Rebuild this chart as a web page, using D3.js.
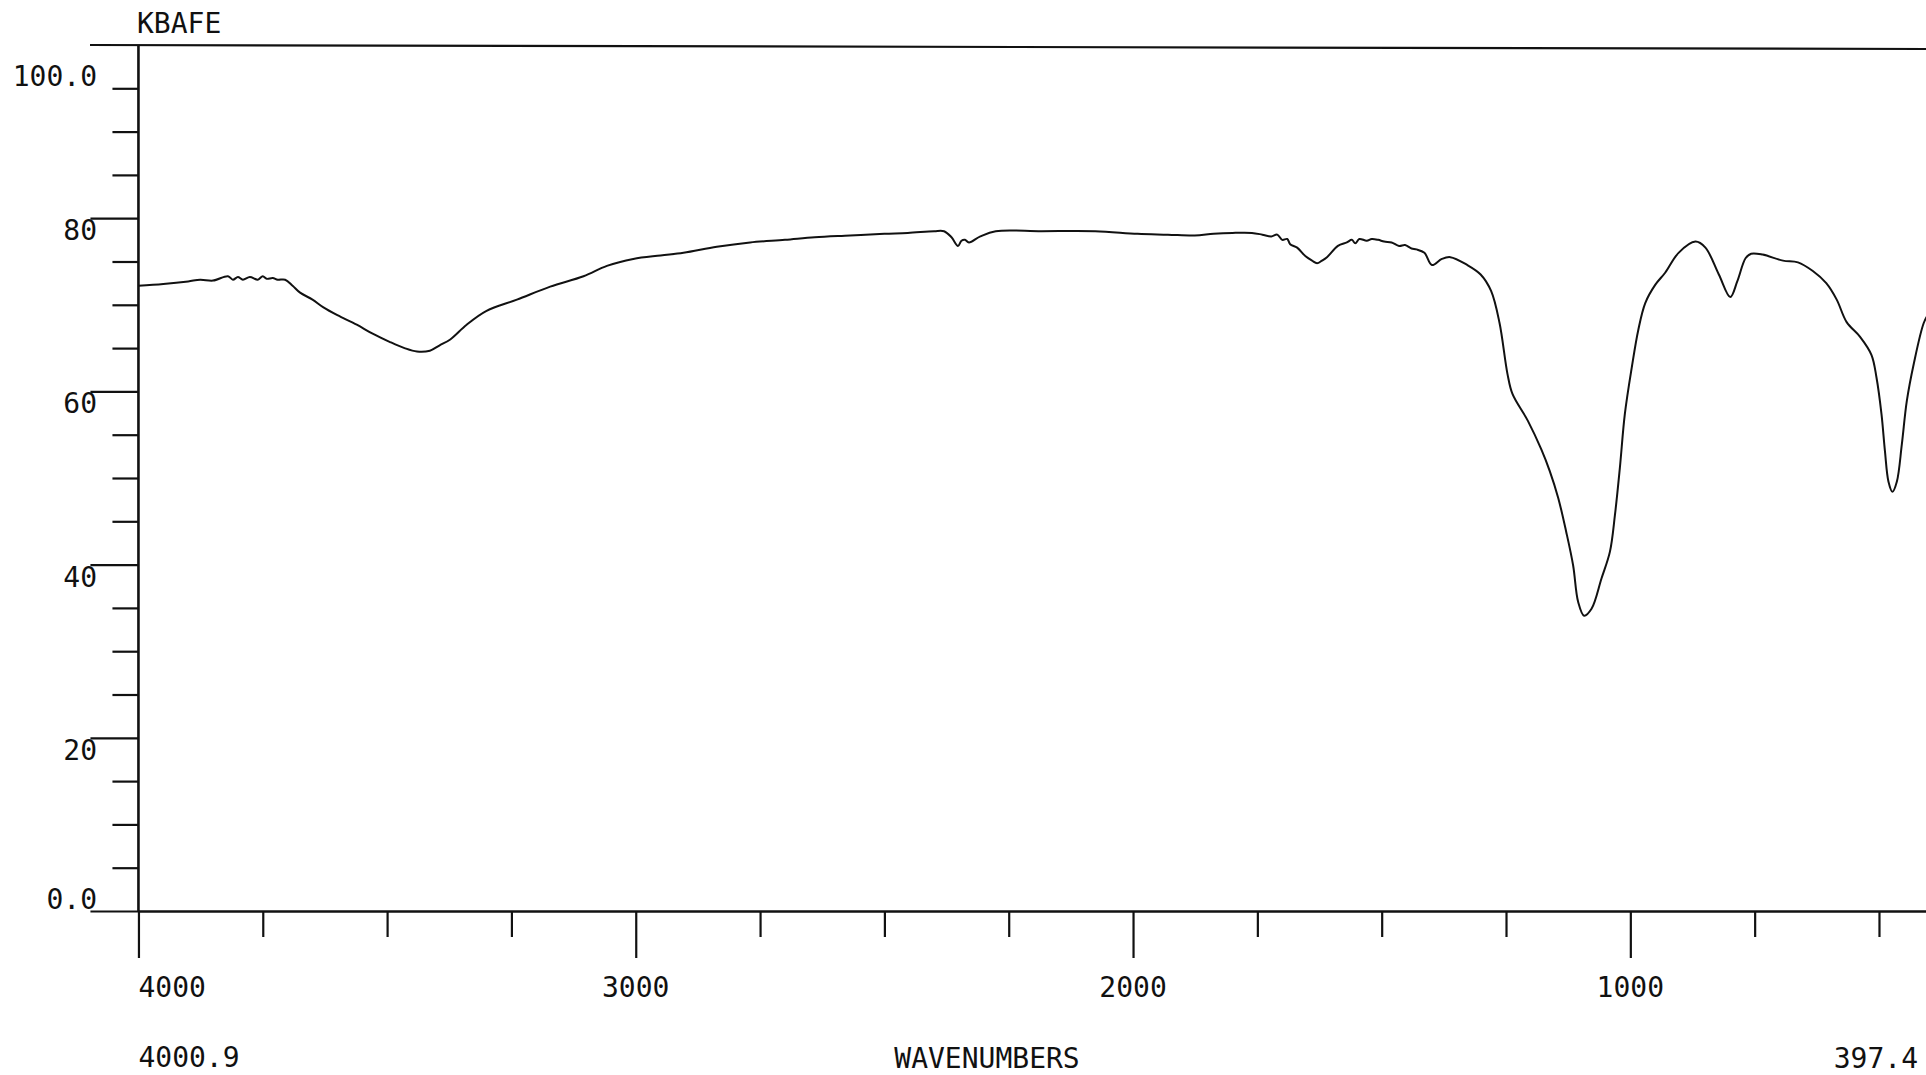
<!DOCTYPE html>
<html><head><meta charset="utf-8">
<script src="https://cdn.jsdelivr.net/npm/d3@7"></script>
<style>
html,body{margin:0;padding:0;background:#fff;overflow:hidden}
text{font-family:"DejaVu Sans Mono",monospace;fill:#111;font-size:28px}
</style>
</head><body>
<svg id="c" width="1926" height="1075"></svg>
<script>
// ---- data ----
const title = "KBAFE";
const xLabel = "WAVENUMBERS";
const xStartLabel = "4000.9";
const xEndLabel = "397.4";
const xDomain = [4000.9, 397.4];

const wavenumbers = [4000, 3950, 3900, 3876, 3850, 3820, 3810, 3800, 3790, 3776, 3760, 3750, 3742, 3730, 3720, 3705,
  3690, 3675, 3650, 3628, 3600, 3561, 3530, 3494, 3465, 3440, 3414, 3395, 3373, 3340, 3300, 3239, 3172, 3105, 3058,
  3005, 2950, 2904, 2837, 2770, 2700, 2640, 2569, 2500, 2453, 2400, 2380, 2365, 2352, 2345, 2338, 2330, 2307, 2276,
  2184, 2076, 1991, 1930, 1876, 1838, 1800, 1761, 1740, 1722, 1710, 1700, 1690, 1684, 1670, 1653, 1640, 1630, 1620, 1610,
  1588, 1570, 1560, 1553, 1545, 1530, 1520, 1507, 1495, 1480, 1465, 1453, 1440, 1430, 1414, 1399, 1379, 1362, 1328,
  1301, 1280, 1263, 1247, 1237, 1206, 1179, 1162, 1145, 1129, 1115, 1105, 1093, 1078, 1058, 1041, 1031, 1021, 1011,
  997, 984, 970, 950, 930, 903, 869, 849, 822, 799, 785, 768, 757, 734, 693, 663, 633, 606, 585, 565, 538, 515, 505,
  495, 488, 481, 473, 464, 454, 444, 430, 410, 400];

const transmittance = [72.2, 72.4, 72.7, 72.9, 72.8, 73.3, 72.9, 73.2, 72.9, 73.2, 72.9, 73.3, 73.0, 73.1, 72.9, 72.9,
  72.2, 71.4, 70.6, 69.7, 68.8, 67.7, 66.7, 65.7, 65.0, 64.6, 64.7, 65.3, 66.0, 67.7, 69.3, 70.6, 72.1, 73.3, 74.5,
  75.3, 75.7, 76.0, 76.7, 77.2, 77.5, 77.8, 78.0, 78.2, 78.3, 78.5, 78.5, 77.8, 76.8, 77.4, 77.5, 77.2, 77.9, 78.5,
  78.5, 78.5, 78.2, 78.1, 78.0, 78.2, 78.3, 78.3, 78.1, 77.9, 78.1, 77.5, 77.6, 77.0, 76.6, 75.6, 75.1, 74.8, 75.1, 75.5,
  76.8, 77.2, 77.5, 77.1, 77.6, 77.4, 77.6, 77.5, 77.3, 77.2, 76.8, 76.9, 76.5, 76.4, 76.0, 74.6, 75.3, 75.5, 74.6,
  73.5, 71.6, 67.9, 62.0, 59.7, 56.6, 53.3, 50.8, 47.7, 43.8, 39.9, 35.7, 34.1, 34.9, 38.4, 41.5, 45.7, 51.2, 57.4,
  62.8, 67.1, 70.2, 72.3, 73.7, 76.0, 77.3, 76.6, 73.5, 70.9, 72.7, 75.4, 75.9, 75.8, 75.1, 74.9, 73.9, 72.5, 70.6,
  68.0, 66.3, 64.2, 61.6, 57.4, 53.1, 49.6, 48.4, 49.6, 53.9, 58.9, 63.2, 67.9, 69.0];

const xTicks = [4000, 3750, 3500, 3250, 3000, 2750, 2500, 2250, 2000, 1750, 1500, 1250, 1000, 750, 500];
const xMajorTicks = [4000, 3000, 2000, 1000];
const xTickLabels = ["4000", "3000", "2000", "1000"];
const yTicks = [0, 5, 10, 15, 20, 25, 30, 35, 40, 45, 50, 55, 60, 65, 70, 75, 80, 85, 90, 95];
const yMajorTicks = [0, 20, 40, 60, 80];
const yLabelValues = [0, 20, 40, 60, 80, 95];
const yLabelTexts = ["0.0", "20", "40", "60", "80", "100.0"];

// ---- chart ----
const W = 1926, H = 1075;
const svg = d3.select("#c");
const ink = "#111";
const x = d3.scaleLinear().domain(xDomain).range([138, 1930]);
const y = d3.scaleLinear().domain([0, 100]).range([911, 45]);

// top frame line
svg.append("line").attr("x1", 90).attr("x2", W).attr("y1", y(100)).attr("y2", y(100) + 4)
  .attr("stroke", ink).attr("stroke-width", 2.2);
// vertical axis line
svg.append("line").attr("x1", x(4000)).attr("x2", x(4000)).attr("y1", y(100)).attr("y2", y(0))
  .attr("stroke", ink).attr("stroke-width", 2.6);

// y axis ticks
const gy = svg.append("g").attr("transform", `translate(${x(4000)},0)`)
  .call(d3.axisLeft(y).tickValues(yTicks).tickFormat("").tickSizeOuter(0));
gy.select(".domain").remove();
gy.selectAll(".tick line").attr("x2", d => yMajorTicks.includes(d) ? -48 : -26)
  .attr("stroke", ink).attr("stroke-width", 2.2);

svg.selectAll(".ylab").data(yLabelValues).join("text").attr("class", "ylab")
  .attr("x", 97)
  .attr("y", d => (d === 0 || d === 95) ? y(d) - 2 : y(d) + 22)
  .attr("text-anchor", "end")
  .text((d, i) => yLabelTexts[i]);

// x axis
const gx = svg.append("g").attr("transform", `translate(0,${y(0)})`)
  .call(d3.axisBottom(x).tickValues(xTicks).tickFormat("").tickSizeOuter(0));
gx.select(".domain").attr("stroke", ink).attr("stroke-width", 2.4);
gx.selectAll(".tick line").attr("y2", d => xMajorTicks.includes(d) ? 47 : 26)
  .attr("stroke", ink).attr("stroke-width", 2.2);

svg.selectAll(".xlab").data(xMajorTicks).join("text").attr("class", "xlab")
  .attr("x", d => x(d))
  .attr("y", 997)
  .attr("text-anchor", (d, i) => i === 0 ? "start" : "middle")
  .text((d, i) => xTickLabels[i]);

// texts
svg.append("text").attr("x", 137).attr("y", 33).text(title);
svg.append("text").attr("x", x(4000)).attr("y", 1067).text(xStartLabel);
svg.append("text").attr("x", 987).attr("y", 1068).attr("text-anchor", "middle").text(xLabel);
svg.append("text").attr("x", 1918).attr("y", 1068).attr("text-anchor", "end").text(xEndLabel);

// spectrum
const pts = wavenumbers.map((w, i) => [w, transmittance[i]]);
svg.append("path").datum(pts)
  .attr("fill", "none").attr("stroke", ink).attr("stroke-width", 2).attr("stroke-linejoin", "round")
  .attr("d", d3.line().x(d => x(d[0])).y(d => y(d[1])).curve(d3.curveCatmullRom.alpha(0.5)));
</script>
</body></html>
